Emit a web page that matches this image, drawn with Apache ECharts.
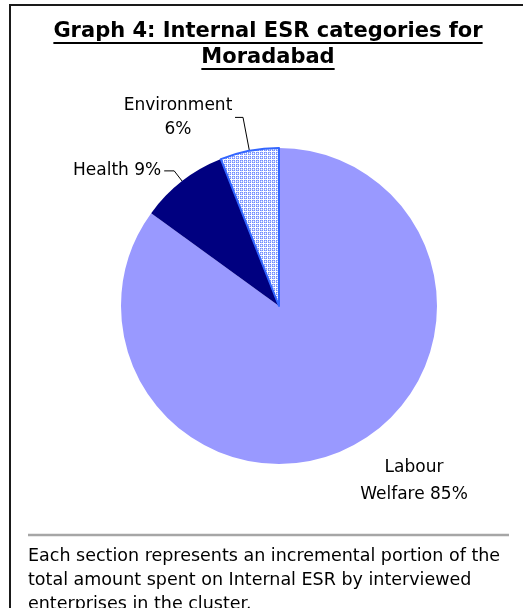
<!DOCTYPE html>
<html>
<head>
<meta charset="utf-8">
<script src="https://cdn.jsdelivr.net/npm/echarts@6/dist/echarts.min.js"></script>
<style>
html, body { margin: 0; padding: 0; background: #fff; }
#main { width: 523px; height: 608px; }
</style>
</head>
<body>
<div id="main"></div>
<script>
var titleLines = ['Graph 4: Internal ESR categories for', 'Moradabad'];
var categories = ['Labour Welfare', 'Health', 'Environment'];
var labelNames = ['Labour\nWelfare', 'Health', 'Environment'];
var labelJoin = [' ', ' ', '\n'];
var shares = [85, 9, 6];
var noteLines = [
    'Each section represents an incremental portion of the',
    'total amount spent on Internal ESR by interviewed',
    'enterprises in the cluster.'
];

var FONT = '"DejaVu Sans", Arial, sans-serif';

// little 4x4 tile for the hatched environment slice
function hatchTile() {
    var rows = [
        ['#6f8cff', '#a8b9ff', '#6f8cff', '#ffffff'],
        ['#a8b9ff', '#ffffff', '#a8b9ff', '#e6ecff'],
        ['#6f8cff', '#a8b9ff', '#6f8cff', '#ffffff'],
        ['#ffffff', '#e6ecff', '#ffffff', '#ffffff']
    ];
    var c = document.createElement('canvas');
    c.width = 4;
    c.height = 4;
    var ctx = c.getContext('2d');
    for (var y = 0; y < 4; y++) {
        for (var x = 0; x < 4; x++) {
            ctx.fillStyle = rows[y][x];
            ctx.fillRect(x, y, 1, 1);
        }
    }
    return c;
}

function textWidth(str, font) {
    var ctx = document.createElement('canvas').getContext('2d');
    ctx.font = font;
    return ctx.measureText(str).width;
}

var sliceStyles = [
    { color: '#9999ff', borderWidth: 0 },
    { color: '#000080', borderWidth: 0 },
    { color: { image: hatchTile(), repeat: 'repeat' }, borderColor: '#3366ff', borderWidth: 2 }
];
var sliceLines = [
    { show: false },
    { show: true, length: 13, length2: 10 },
    { show: true, length: 34, length2: 8 }
];
var sliceLabelGap = [5, 3, 1];

var myChart = echarts.init(document.getElementById('main'));

var titleX = 268, titleTop = 19, titleLH = 26, titleSize = 21;
var titleFont = 'bold ' + titleSize + 'px ' + FONT;
var underlines = titleLines.map(function (t, i) {
    var w = textWidth(t, titleFont);
    var y = titleTop + titleLH * i + 24;
    return {
        type: 'line',
        shape: { x1: titleX - w / 2, y1: y, x2: titleX + w / 2, y2: y },
        style: { stroke: '#000', lineWidth: 2 }
    };
});

var option = {
    backgroundColor: '#fff',
    animation: false,
    title: {
        text: titleLines.join('\n'),
        left: titleX,
        top: titleTop,
        textAlign: 'center',
        padding: 0,
        textStyle: {
            fontFamily: FONT,
            fontSize: titleSize,
            fontWeight: 'bold',
            lineHeight: titleLH,
            color: '#000'
        }
    },
    graphic: [
        { type: 'line', shape: { x1: 10, y1: 5, x2: 10, y2: 608 }, style: { stroke: '#1a1a1a', lineWidth: 2 } },
        { type: 'line', shape: { x1: 9, y1: 5, x2: 523, y2: 5 }, style: { stroke: '#1a1a1a', lineWidth: 2 } },
        { type: 'line', shape: { x1: 28, y1: 535, x2: 509, y2: 535 }, style: { stroke: '#a6a6a6', lineWidth: 2.5 } },
        {
            type: 'text',
            left: 28,
            top: 544,
            style: {
                text: noteLines.join('\n'),
                font: '17.5px ' + FONT,
                lineHeight: 24,
                fill: '#000'
            }
        }
    ].concat(underlines),
    series: [{
        type: 'pie',
        center: [279, 306],
        radius: 158,
        startAngle: 90,
        clockwise: true,
        avoidLabelOverlap: false,
        emphasis: { disabled: true },
        label: {
            position: 'outside',
            fontFamily: FONT,
            fontSize: 17,
            lineHeight: 24,
            color: '#000',
            formatter: function (p) {
                if (p.dataIndex === 2) {
                    return '{c|' + labelNames[2] + '}\n{c|' + p.value + '%}';
                }
                return labelNames[p.dataIndex] + labelJoin[p.dataIndex] + p.value + '%';
            },
            rich: {
                c: { width: 112, align: 'center', fontFamily: FONT, fontSize: 17, lineHeight: 24, color: '#000' }
            }
        },
        labelLine: {
            smooth: false,
            lineStyle: { color: '#000', width: 1 }
        },
        labelLayout: function (p) {
            if (p.dataIndex === 0) {
                return { x: 414, y: 481, align: 'center', verticalAlign: 'middle' };
            }
        },
        data: categories.map(function (name, i) {
            return {
                name: name,
                value: shares[i],
                itemStyle: sliceStyles[i],
                labelLine: sliceLines[i],
                label: { distanceToLabelLine: sliceLabelGap[i], lineHeight: i === 0 ? 27 : 24 }
            };
        })
    }]
};

myChart.setOption(option);
</script>
</body>
</html>
